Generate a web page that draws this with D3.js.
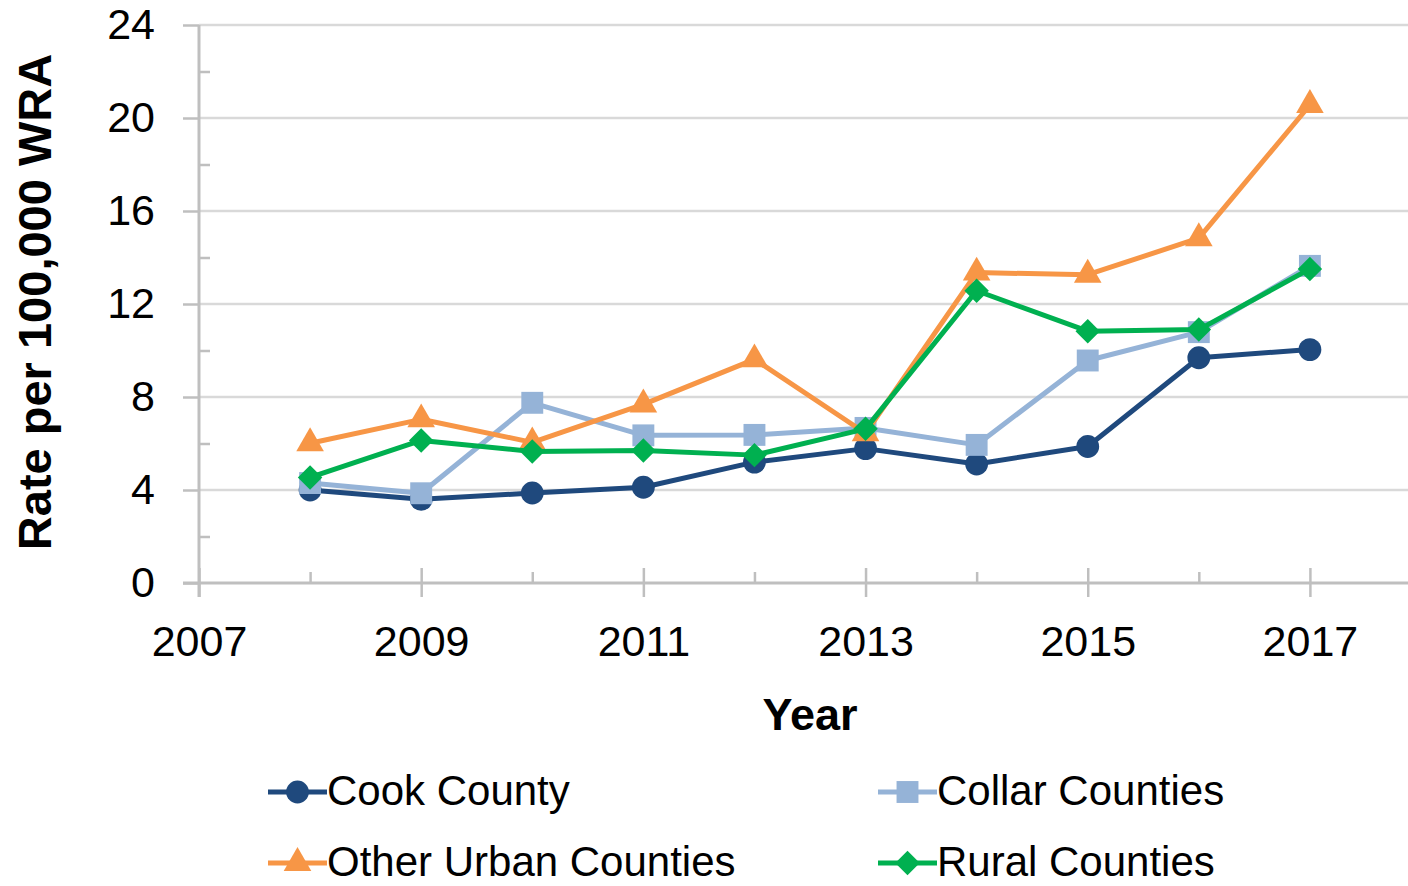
<!DOCTYPE html>
<html>
<head>
<meta charset="utf-8">
<script src="https://cdn.jsdelivr.net/npm/d3@7"></script>
<style>
  html, body { margin: 0; padding: 0; background: #fff; }
  svg { display: block; }
  text { font-family: "Liberation Sans Narrow", "Arial Narrow", "Liberation Sans", sans-serif; fill: #000; }
</style>
</head>
<body>
<div id="chart-area"></div>
<script>
const years = [2008, 2009, 2010, 2011, 2012, 2013, 2014, 2015, 2016, 2017];
const cookCounty = [4.0, 3.6, 3.87, 4.12, 5.2, 5.78, 5.12, 5.87, 9.69, 10.04];
const collarCounties = [4.3, 3.86, 7.75, 6.35, 6.37, 6.67, 5.94, 9.57, 10.79, 13.64];
const otherUrban = [6.01, 7.04, 6.05, 7.68, 9.62, 6.44, 13.35, 13.26, 14.83, 20.56];
const ruralCounties = [4.54, 6.13, 5.66, 5.7, 5.5, 6.63, 12.57, 10.83, 10.9, 13.51];
const yTicks = [0, 4, 8, 12, 16, 20, 24];
const xTicks = [2007, 2009, 2011, 2013, 2015, 2017];

// square turned 45 degrees, like the spreadsheet's diamond marker
const squareDiamond = {
    draw(context, size) {
        const r = Math.sqrt(size / 2);
        context.moveTo(0, -r);
        context.lineTo(r, 0);
        context.lineTo(0, r);
        context.lineTo(-r, 0);
        context.closePath();
    }
};

const series = [
    { name: "Cook County", values: cookCounty, color: "#1F497D", symbol: d3.symbolCircle, size: 410 },
    { name: "Collar Counties", values: collarCounties, color: "#95B3D7", symbol: d3.symbolSquare, size: 480 },
    { name: "Other Urban Counties", values: otherUrban, color: "#F79646", symbol: d3.symbolTriangle, size: 330 },
    { name: "Rural Counties", values: ruralCounties, color: "#00B050", symbol: squareDiamond, size: 300 }
];

const config = {
    width: 1408,
    height: 886,
    left: 199, right: 1421, top: 25, bottom: 583
};

const svg = d3.select("#chart-area")
    .append("svg")
    .attr("width", config.width)
    .attr("height", config.height);

const xScale = d3.scaleLinear()
    .domain([2007, 2018])
    .range([config.left, config.right]);

const yScale = d3.scaleLinear()
    .domain([0, 24])
    .range([config.bottom, config.top]);

// horizontal gridlines
svg.append("g")
    .selectAll("line")
    .data(yTicks.filter(d => d > 0))
    .enter().append("line")
    .attr("x1", config.left)
    .attr("x2", config.width)
    .attr("y1", d => yScale(d))
    .attr("y2", d => yScale(d))
    .attr("stroke", "#D9D9D9")
    .attr("stroke-width", 2.5);

// y axis (major ticks out, minor ticks in)
const yAxisGroup = svg.append("g")
    .attr("transform", `translate(${config.left}, 0)`)
    .call(d3.axisLeft(yScale).tickValues(yTicks).tickSize(16).tickPadding(28).tickSizeOuter(0));
yAxisGroup.select(".domain").remove();
yAxisGroup.selectAll(".tick line").attr("stroke", "#BFBFBF").attr("stroke-width", 2.5);
yAxisGroup.selectAll("text").attr("font-size", "43px").style("fill", "#000");

const yMinor = svg.append("g")
    .attr("transform", `translate(${config.left}, 0)`)
    .call(d3.axisRight(yScale).tickValues([2, 6, 10, 14, 18, 22]).tickSize(11).tickFormat(""));
yMinor.select(".domain").remove();
yMinor.selectAll(".tick line").attr("stroke", "#BFBFBF").attr("stroke-width", 2.5);

svg.append("line")
    .attr("x1", config.left).attr("x2", config.left)
    .attr("y1", config.top).attr("y2", config.bottom + 14)
    .attr("stroke", "#BFBFBF").attr("stroke-width", 3);

// x axis
const xAxisGroup = svg.append("g")
    .attr("transform", `translate(0, ${config.bottom})`)
    .call(d3.axisBottom(xScale).tickValues(xTicks).tickFormat(d3.format("d")).tickSize(14).tickPadding(28).tickSizeOuter(0));
xAxisGroup.select(".domain").remove();
xAxisGroup.selectAll(".tick line").attr("stroke", "#BFBFBF").attr("stroke-width", 2.5).attr("y1", -15);
xAxisGroup.selectAll("text").attr("font-size", "43px").style("fill", "#000");

const xMinor = svg.append("g")
    .attr("transform", `translate(0, ${config.bottom})`)
    .call(d3.axisTop(xScale).tickValues([2008, 2010, 2012, 2014, 2016]).tickSize(11).tickFormat(""));
xMinor.select(".domain").remove();
xMinor.selectAll(".tick line").attr("stroke", "#BFBFBF").attr("stroke-width", 2.5);

svg.append("line")
    .attr("x1", config.left - 16).attr("x2", config.width)
    .attr("y1", config.bottom).attr("y2", config.bottom)
    .attr("stroke", "#BFBFBF").attr("stroke-width", 3);

// axis titles
svg.append("text")
    .attr("transform", "translate(51, 302) rotate(-90)")
    .attr("text-anchor", "middle")
    .attr("font-size", "47px")
    .attr("font-weight", "bold")
    .text("Rate per 100,000 WRA");

svg.append("text")
    .attr("x", 810)
    .attr("y", 730)
    .attr("text-anchor", "middle")
    .attr("font-size", "45px")
    .attr("font-weight", "bold")
    .text("Year");

// lines and markers
const line = d3.line()
    .x((d, i) => xScale(years[i]))
    .y(d => yScale(d));

series.forEach(s => {
    const g = svg.append("g");
    g.append("path")
        .datum(s.values)
        .attr("fill", "none")
        .attr("stroke", s.color)
        .attr("stroke-width", 5)
        .attr("stroke-linejoin", "round")
        .attr("d", line);
    g.selectAll("path.marker")
        .data(s.values)
        .enter().append("path")
        .attr("class", "marker")
        .attr("transform", (d, i) => `translate(${xScale(years[i])}, ${yScale(d)})`)
        .attr("d", d3.symbol().type(s.symbol).size(s.size))
        .attr("fill", s.color);
});

// legend
const legendPos = [
    { x: 268, y: 792 },
    { x: 878, y: 792 },
    { x: 268, y: 863 },
    { x: 878, y: 863 }
];

series.forEach((s, i) => {
    const p = legendPos[i];
    const lg = svg.append("g").attr("transform", `translate(${p.x}, ${p.y})`);
    lg.append("line")
        .attr("x1", 0).attr("x2", 59)
        .attr("stroke", s.color)
        .attr("stroke-width", 5);
    lg.append("path")
        .attr("transform", "translate(29.5, 0)")
        .attr("d", d3.symbol().type(s.symbol).size(s.size))
        .attr("fill", s.color);
    lg.append("text")
        .attr("x", 59)
        .attr("y", 13)
        .attr("font-size", "42px")
        .text(s.name);
});
</script>
</body>
</html>
